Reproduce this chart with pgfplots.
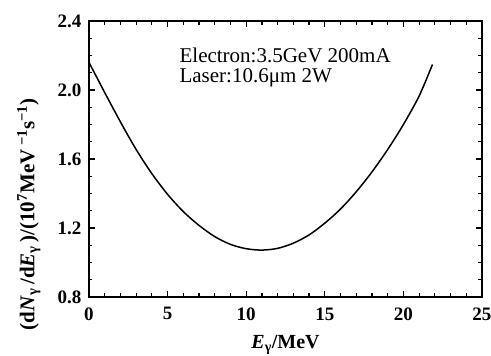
\documentclass[border=0pt]{standalone}
\usepackage{fontspec}
\setmainfont{Liberation Serif}
\usepackage{pgfplots}
\pgfplotsset{compat=1.18}
\begin{document}
\begin{tikzpicture}
\useasboundingbox (-89pt,-59pt) rectangle (402pt,297pt);
\begin{axis}[
  at={(0pt,0pt)}, anchor=south west,
  scale only axis, width=393pt, height=276pt,
  xmin=0, xmax=25, ymin=0.8, ymax=2.4,
  xtick={0,5,...,25}, ytick={0.8,1.2,1.6,2.0,2.4},
  minor x tick num=4, minor y tick num=3,
  tick align=inside, major tick length=6pt, minor tick length=3.5pt,
  axis line style={line width=1.6pt},
  every tick/.style={line width=1.2pt, black},
  /pgf/number format/assume math mode=true,
  yticklabel style={/pgf/number format/fixed, /pgf/number format/fixed zerofill, /pgf/number format/precision=1, font=\fontsize{19}{22}\selectfont\bfseries, xshift=-4pt},
  xticklabel style={font=\fontsize{19}{22}\selectfont\bfseries, yshift=-7pt},
  scaled y ticks=false,
  xlabel={\textit{E}\textsubscript{γ}/MeV},
  ylabel={(d\textit{N}\textsubscript{γ}\,/d\textit{E}\textsubscript{γ}\,)/(10\textsuperscript{7}MeV\,\textsuperscript{−1}s\textsuperscript{−1})},
  every axis x label/.style={at={(axis description cs:0.5,-0.172)}, anchor=center, font=\fontsize{20}{22}\selectfont\bfseries},
  every axis y label/.style={at={(axis description cs:-0.153,0.30)}, anchor=center, rotate=90, font=\fontsize{21}{24}\selectfont\bfseries},
]
\addplot[black, line width=1.5pt, smooth, tension=0.5] coordinates {
(0,2.160) (1,1.985) (2,1.815) (3,1.655) (4,1.515) (5,1.395) (6,1.295)
(7,1.215) (8,1.150) (9,1.105) (10,1.080) (11,1.072) (12,1.082) (13,1.112)
(14,1.160) (15,1.228) (16,1.310) (17,1.410) (18,1.525) (19,1.655)
(20,1.800) (21,1.965) (21.85,2.148)
};
\node[anchor=base west, font=\fontsize{21}{24}\selectfont, inner sep=0pt] at (axis cs:5.75,2.162) {Electron:3.5GeV 200mA};
\node[anchor=base west, font=\fontsize{21}{24}\selectfont, inner sep=0pt] at (axis cs:5.75,2.046) {Laser:10.6μm 2W};
\end{axis}
\end{tikzpicture}
\end{document}
